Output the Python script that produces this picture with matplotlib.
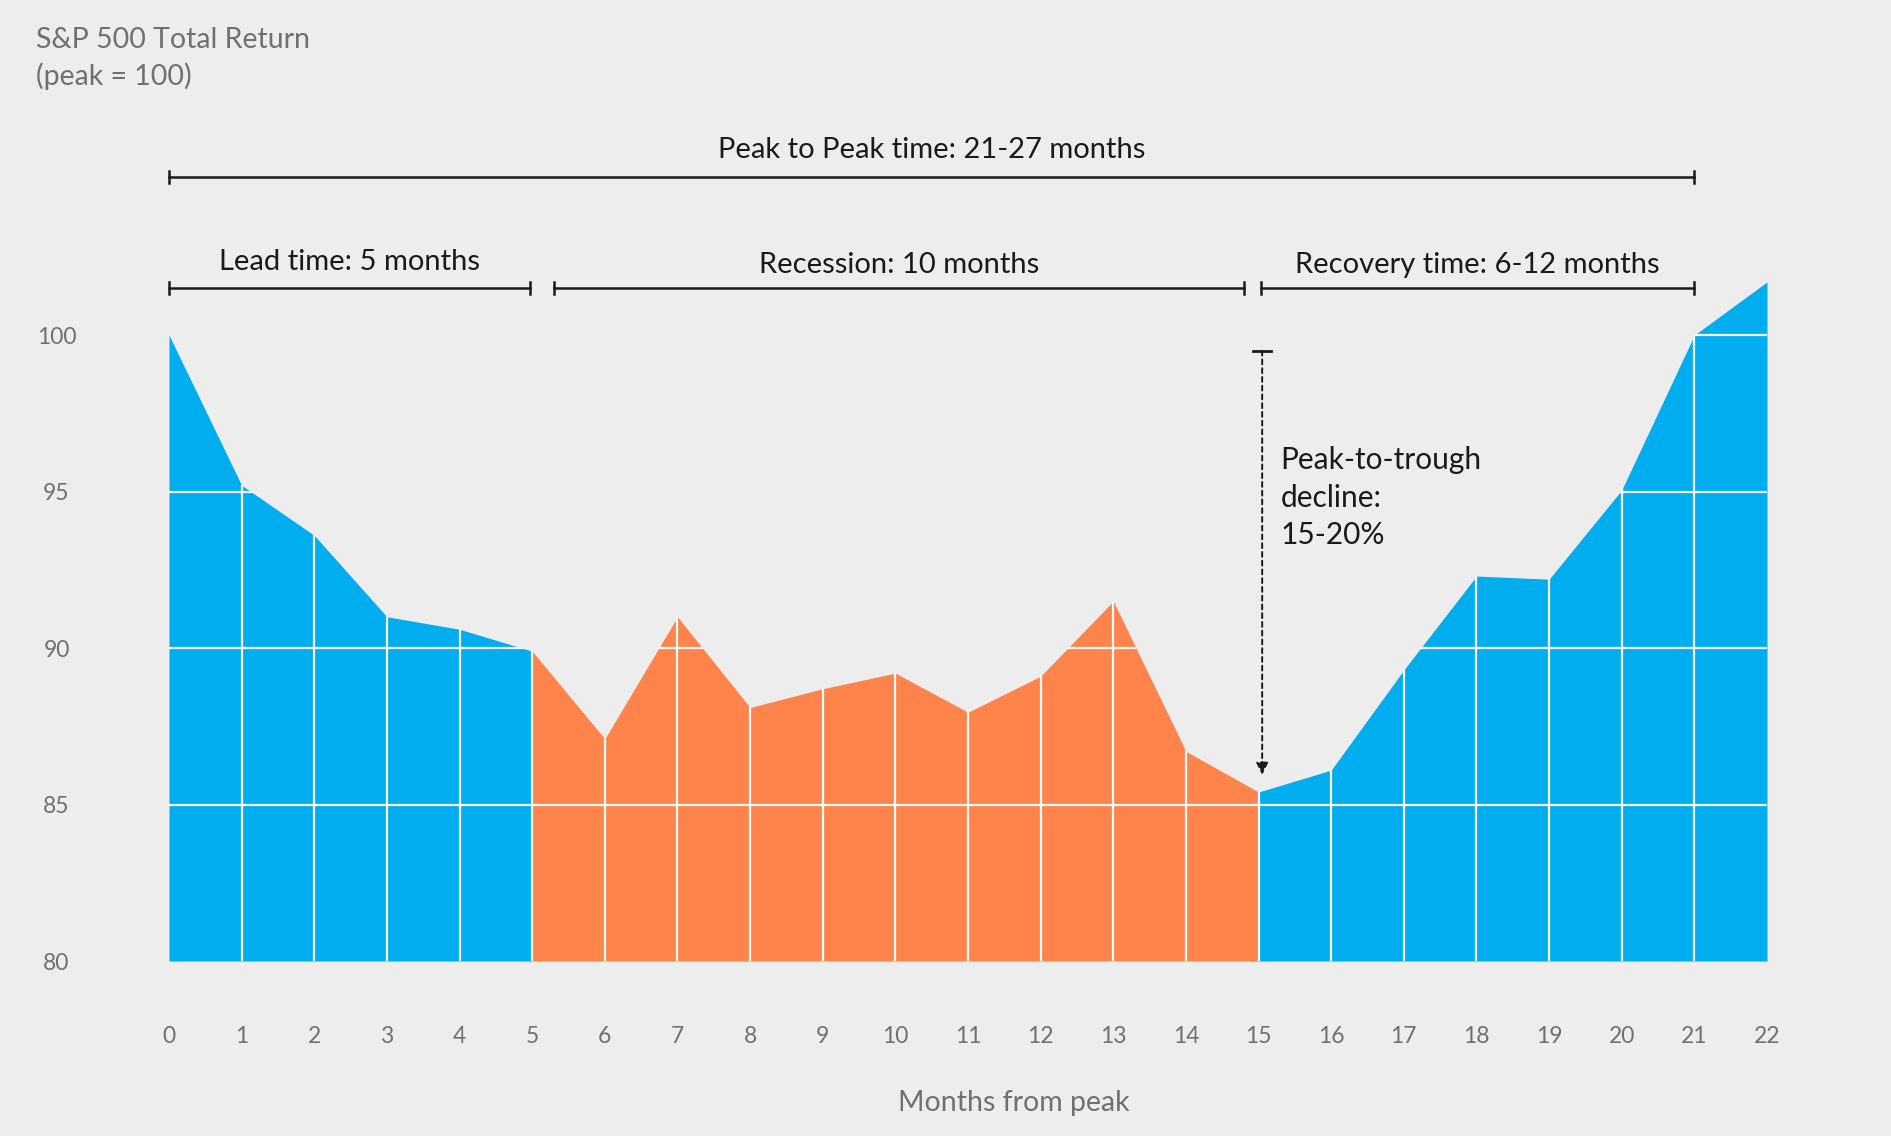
import numpy as np
import matplotlib.pyplot as plt
from matplotlib.patches import Polygon

plt.rcParams['font.family'] = ['Lato', 'DejaVu Sans']

# S&P 500 total return, indexed to the peak (=100), by month from peak
months = list(range(0, 23))
values = [100.0, 95.2, 93.6, 91.0, 90.6, 89.9, 87.1, 91.0, 88.1, 88.7, 89.2,
          87.95, 89.1, 91.5, 86.7, 85.4, 86.1, 89.3, 92.3, 92.2, 95.05, 100.0, 101.7]
# segments: lead (0-5), recession (5-15), recovery (15-22)
seg_bounds = [(0, 5), (5, 15), (15, 22)]
seg_colors = ['#00aeef', '#ff844b', '#00aeef']

brackets = [  # (x0, x1, y, label, label_y)
    (0, 21, 105.05, 'Peak to Peak time: 21-27 months', 105.9),
    (0, 4.97, 101.5, 'Lead time: 5 months', 102.35),
    (5.3, 14.8, 101.5, 'Recession: 10 months', 102.25),
    (15.03, 21, 101.5, 'Recovery time: 6-12 months', 102.25),
]
yticks = [80, 85, 90, 95, 100]

bg = '#ededed'
fig = plt.figure(figsize=(18.91, 11.36), dpi=100, facecolor=bg)
ax = fig.add_axes([169/1891, 1-961/1136, (1767-169)/1891, (961-116)/1136])
ax.set_facecolor(bg)

x = np.array(months, dtype=float)
y = np.array(values)
for (a, b), c in zip(seg_bounds, seg_colors):
    m = (x >= a) & (x <= b)
    ax.fill_between(x[m], 80, y[m], color=c, linewidth=0, zorder=2)

# white grid only inside the filled area
clip = Polygon([(0, 80)] + list(zip(x, y)) + [(22, 80)], closed=True,
               transform=ax.transData, facecolor='none', edgecolor='none')
ax.add_patch(clip)
vl = ax.vlines(x[1:-1], 80, 110, color='white', linewidth=1.6, zorder=3)
hl = ax.hlines([85, 90, 95, 100], 0, 22, color='white', linewidth=1.6, zorder=3)
vl.set_clip_path(clip)
hl.set_clip_path(clip)

ax.set_xlim(0, 22)
ax.set_ylim(80, 107)
ax.set_xticks(months)
ax.set_yticks(yticks)
ax.tick_params(length=0, labelsize=16.5, labelcolor='#707070')
ax.tick_params(axis='x', pad=47)
ax.tick_params(axis='y', pad=81)
for t in ax.get_yticklabels():
    t.set_horizontalalignment('center')
for s in ax.spines.values():
    s.set_visible(False)

# brackets above the chart
for x0, x1, yb, lab, ly in brackets:
    ax.plot([x0, x1], [yb, yb], color='#1a1a1a', lw=1.8, clip_on=False, zorder=4)
    for xe in (x0, x1):
        ax.plot([xe, xe], [yb - 0.2, yb + 0.2], color='#1a1a1a', lw=1.8, clip_on=False, zorder=4)
    ax.text((x0 + x1) / 2, ly, lab, ha='center', va='center', fontsize=21,
            color='#1a1a1a', clip_on=False)

# peak-to-trough arrow
ax.plot([14.93, 15.17], [99.5, 99.5], color='#1a1a1a', lw=2, zorder=4)
ax.annotate('', xy=(15.05, 85.95), xytext=(15.05, 99.5),
            arrowprops=dict(arrowstyle='-|>', linestyle=(0, (2.5, 2)), color='#1a1a1a',
                            lw=1.4, mutation_scale=18, shrinkA=0, shrinkB=0), zorder=4)
ax.text(15.3, 94.8, 'Peak-to-trough\ndecline:\n15-20%', ha='left', va='center',
        fontsize=21.5, color='#1a1a1a', linespacing=1.42)

fig.text(36/1891, 1-27/1136, 'S&P 500 Total Return\n(peak = 100)', ha='left', va='top',
         fontsize=20.5, color='#707070', linespacing=1.42)
fig.text(1014/1891, 1-1103/1136, 'Months from peak', ha='center', va='center',
         fontsize=20.5, color='#707070')

fig.savefig('out.png', dpi=100, facecolor=bg)
